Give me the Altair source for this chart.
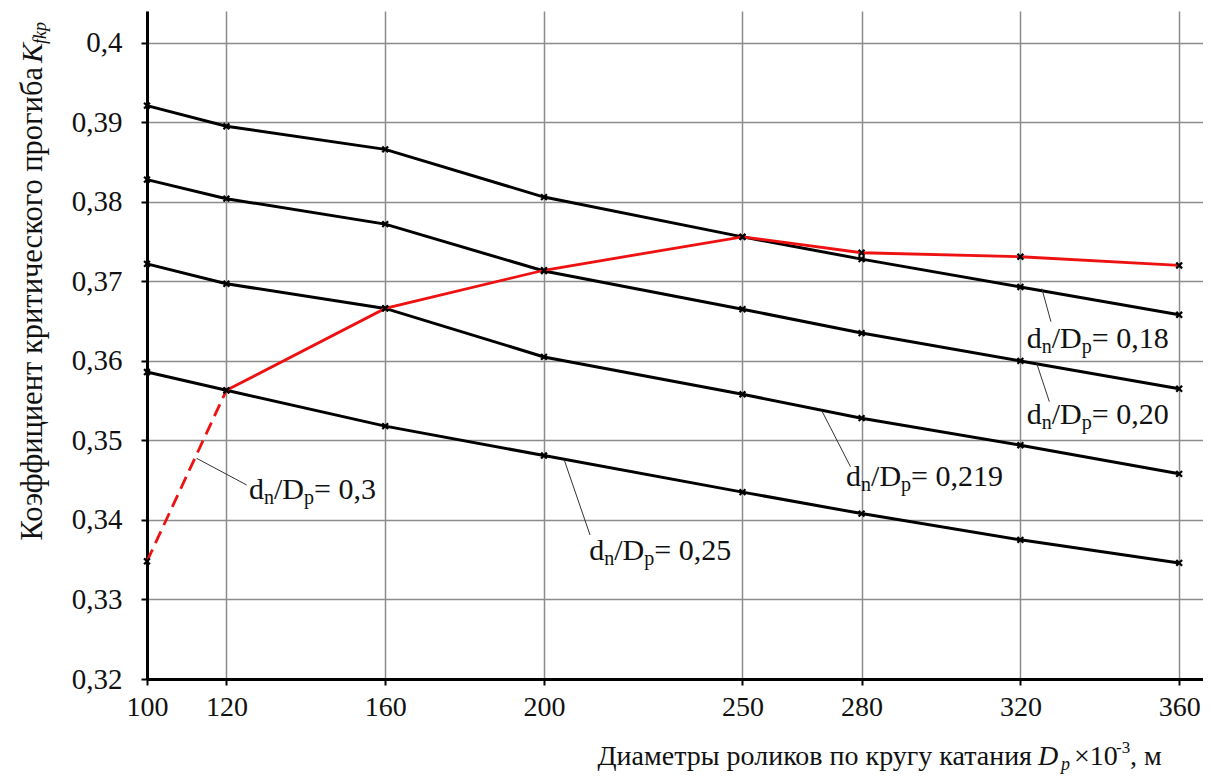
import altair as alt
import pandas as pd

# ---- data ----
x_vals = [100, 120, 160, 200, 250, 280, 320, 360]
series_names = ["0,18", "0,20", "0,219", "0,25", "0,3"]
k_018 = [0.3921, 0.3895, 0.3866, 0.3806, 0.3756, 0.3728, 0.3693, 0.3658]
k_020 = [0.3828, 0.3804, 0.3772, 0.3713, 0.3665, 0.3635, 0.3600, 0.3565]
k_0219 = [0.3722, 0.3697, 0.3666, 0.3605, 0.3558, 0.3528, 0.3494, 0.3458]
k_025 = [0.3586, 0.3563, 0.3518, 0.3481, 0.3435, 0.3408, 0.3375, 0.3346]
k_03 = [0.3348, 0.3563, 0.3666, 0.3714, 0.3756, 0.3736, 0.3731, 0.3720]
y_ticks = [0.32, 0.33, 0.34, 0.35, 0.36, 0.37, 0.38, 0.39, 0.40]

# annotation labels (text anchor and leader line ends, in data units)
ann_D = [321.6, 321.6, 276.1, 211.4, 125.7]
ann_K = [0.36159, 0.35207, 0.34427, 0.33496, 0.3426]
lead_D = [325.4, 324.1, 270.1, 205.1, 112.5]
lead_K = [0.3691, 0.3597, 0.35361, 0.34754, 0.34775]
lead_D2 = [327.7, 327.3, 277.2, 211.6, 125.1]
lead_K2 = [0.36493, 0.35487, 0.3467, 0.33811, 0.3444]

rows = []
for name, vals in zip(series_names, [k_018, k_020, k_0219, k_025, k_03]):
    for d, k in zip(x_vals, vals):
        rows.append({"s": name, "D": d, "K": k})
df = pd.DataFrame(rows)

ann = pd.DataFrame({"s": series_names, "D": ann_D, "K": ann_K,
                    "value": ["= " + s for s in series_names]})
lead = pd.DataFrame({"D": lead_D, "K": lead_K, "D2": lead_D2, "K2": lead_K2})

SERIF = "Liberation Serif, Times New Roman, DejaVu Serif, serif"
GRID = "#8c8c8c"

X = alt.X("D:Q",
          scale=alt.Scale(domain=[100, 366], nice=False, zero=False),
          axis=alt.Axis(values=x_vals, title=None, grid=True, gridColor=GRID,
                        gridWidth=1.5, domainColor="black", domainWidth=3,
                        tickColor="black", tickWidth=2, tickSize=6,
                        labelFont=SERIF, labelFontSize=28, labelColor="#111",
                        labelPadding=8, labelFlush=False))
Y = alt.Y("K:Q",
          scale=alt.Scale(domain=[0.32, 0.404], nice=False, zero=False),
          axis=alt.Axis(values=y_ticks, title=None, grid=True, gridColor=GRID,
                        gridWidth=1.5, domainColor="black", domainWidth=3,
                        tickColor="black", tickWidth=2, tickSize=6,
                        labelFont=SERIF, labelFontSize=29, labelColor="#111",
                        labelPadding=19, labelFlush=False,
                        labelExpr="replace(format(datum.value, '.2~f'), '.', ',')"))

base = alt.Chart(df)
black = base.transform_filter("datum.s != '0,3'").mark_line(
    color="black", strokeWidth=3).encode(x=X, y=Y, detail="s:N")
red_solid = base.transform_filter("datum.s == '0,3' && datum.D >= 120").mark_line(
    color="#ee1111", strokeWidth=2.8).encode(x=X, y=Y)
red_dash = base.transform_filter("datum.s == '0,3' && datum.D <= 120").mark_line(
    color="#ee1111", strokeWidth=2.8, strokeDash=[13, 7]).encode(x=X, y=Y)
pts = base.mark_point(shape="M-1,-1L1,1M-1,1L1,-1", size=34, color="black",
                      strokeWidth=2.2, filled=False, opacity=1).encode(x=X, y=Y)

leaders = alt.Chart(lead).mark_rule(color="#333", strokeWidth=1).encode(
    x=X, y=Y, x2="D2:Q", y2="K2:Q")

FS = 30
SUB = 20
def piece(text_expr, dx, dy=0, size=FS):
    return alt.Chart(ann).transform_calculate(t=text_expr).mark_text(
        font=SERIF, fontSize=size, align="left", baseline="alphabetic",
        dx=dx, dy=dy, color="#111").encode(x=X, y=Y, text="t:N")

labels = [
    piece("'d'", 0),
    piece("'n'", 15, 5, SUB),
    piece("'/D'", 25),
    piece("'p'", 55, 5, SUB),
    piece("datum.value", 65),
]

one = pd.DataFrame({"a": [0]})
def tpiece(text, x, y, size=28, style="normal", angle=0, align="left"):
    return alt.Chart(one).mark_text(
        text=text, font=SERIF, fontSize=size, fontStyle=style, align=align,
        baseline="alphabetic", angle=angle, color="#111").encode(
        x=alt.value(x), y=alt.value(y))

x_title = [
    tpiece("Диаметры роликов по кругу катания", 885, 754, align="right"),
    tpiece("D", 891, 754, style="italic"),
    tpiece("p", 914, 759, size=18, style="italic"),
    tpiece("×10", 927, 754),
    tpiece("-3", 969, 742, size=17),
    tpiece(", м", 983, 754),
]
y_title = [
    tpiece("Коэффициент критического прогиба", -105, 56, size=30.5, angle=270, align="right"),
    tpiece("K", -105, 52, size=30, style="italic", angle=270),
    tpiece("fkp", -101, 33, size=18, style="italic", angle=270),
]

chart = alt.layer(black, red_dash, red_solid, pts, leaders, *labels, *x_title, *y_title).properties(
    width=1056, height=668,
    autosize=alt.AutoSizeParams(type="none"),
    padding={"left": 139, "top": 3, "right": 0, "bottom": 98},
    background="white",
).configure_view(stroke=None)

chart.save("out.html", embed_options={"renderer": "svg", "actions": False})
